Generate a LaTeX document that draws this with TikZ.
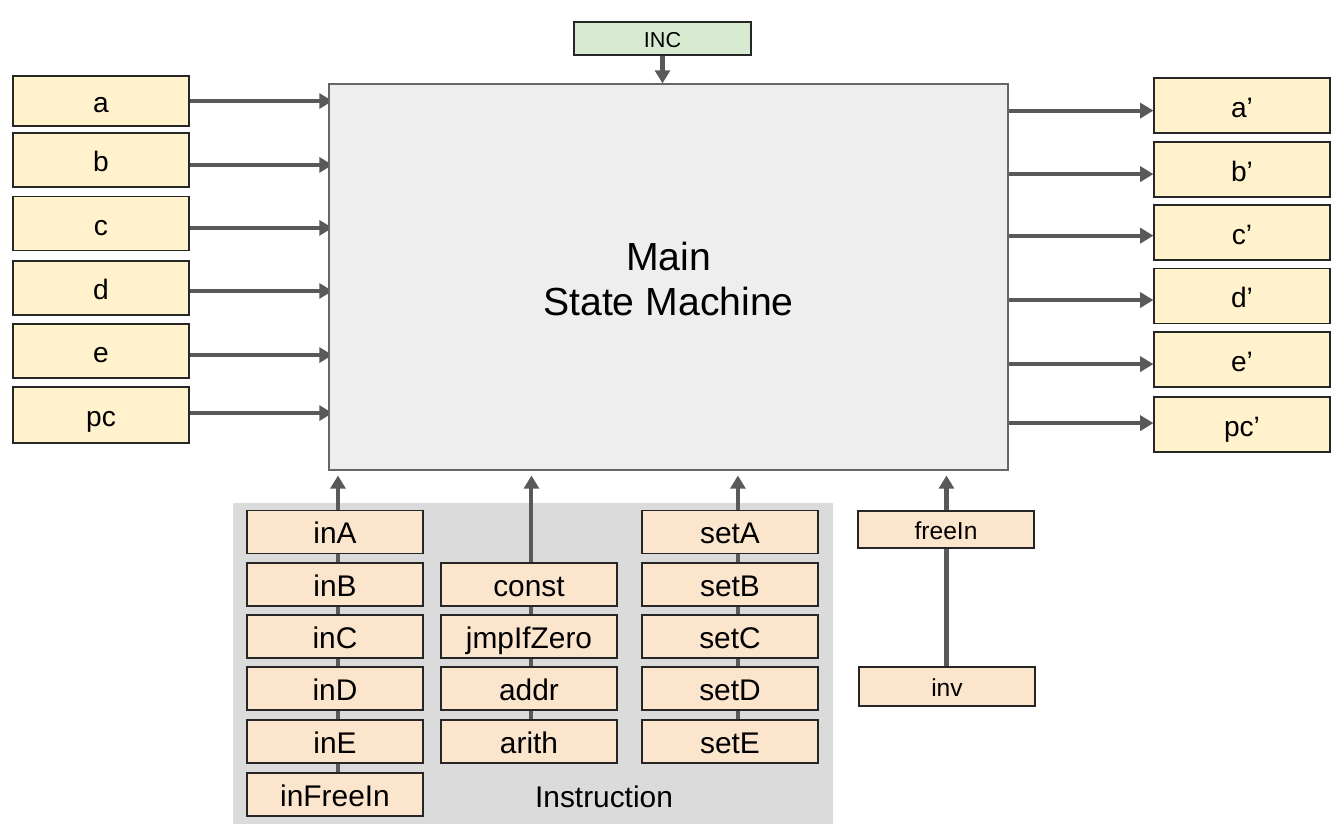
\documentclass[tikz,border=0pt]{standalone}
\usepackage{fontspec}
\setmainfont{Liberation Sans}
\usetikzlibrary{arrows.meta}
\definecolor{ioY}{HTML}{FFF2CC}
\definecolor{insO}{HTML}{FCE5CD}
\definecolor{incG}{HTML}{D9EAD3}
\definecolor{mainG}{HTML}{EEEEEE}
\definecolor{bgG}{HTML}{DBDBDB}
\definecolor{arrG}{HTML}{595959}
\pgfdeclarelayer{bg}\pgfdeclarelayer{lines}\pgfsetlayers{bg,lines,main}
\begin{document}
\begin{tikzpicture}[x=0.02cm,y=-0.02cm,
  box/.style={draw=black!85,line width=0.7pt,inner sep=0pt,minimum width=3.52cm},
  io/.style={box,fill=ioY,minimum height=1.08cm,font=\fontsize{16}{19}\selectfont,text height=14.6pt,text depth=1.4pt},
  ioR/.style={io,minimum height=1.1cm},
  ins/.style={box,fill=insO,minimum height=0.86cm,font=\fontsize{17}{20}\selectfont,text height=15.3pt,text depth=1.7pt},
  fin/.style={box,fill=insO,font=\fontsize{14}{17}\selectfont,text height=12.6pt,text depth=1.4pt},
  arr/.style={draw=arrG,line width=2.3pt,-{Triangle[length=7.5pt,width=8.5pt]}}]
\useasboundingbox (0,0) rectangle (1340,833);

% main
\node[draw=black!60,line width=0.7pt,fill=mainG,minimum width=13.58cm,minimum height=7.72cm,inner sep=0pt] (main) at (668.5,277) {};
\node[font=\fontsize{22.3}{26}\selectfont,align=center] (maintxt) at (668.5,279) {Main\\State Machine};

% INC
\node[box,fill=incG,minimum width=3.54cm,minimum height=0.66cm,font=\fontsize{12.3}{15}\selectfont,text height=11pt,text depth=1.2pt] (inc) at (662.5,38.5) {INC};

% left inputs
\node[io,minimum height=1.0cm] (a) at (101,101) {a};
\node[io] (b) at (101,160) {b};
\node[io] (c) at (101,223.5) {c};
\node[io] (d) at (101,288) {d};
\node[io] (e) at (101,351) {e};
\node[io,minimum height=1.12cm] (pc) at (101,415) {pc};

% right outputs
\node[ioR] (a2) at (1242,105.5) {a’};
\node[ioR] (b2) at (1242,169.5) {b’};
\node[ioR] (c2) at (1242,232.5) {c’};
\node[ioR] (d2) at (1242,296) {d’};
\node[ioR] (e2) at (1242,359.5) {e’};
\node[ioR] (pc2) at (1242,424.5) {pc’};

% instruction group
\begin{pgfonlayer}{bg}
\node[fill=bgG,minimum width=12cm,minimum height=6.42cm,inner sep=0pt] (instr) at (533,663.5) {};
\end{pgfonlayer}
\node[font=\fontsize{17}{20}\selectfont] (instrlbl) at (604,797) {Instruction};

\node[ins] (inA) at (335,532) {inA};
\node[ins] (inB) at (335,584.5) {inB};
\node[ins] (inC) at (335,636.5) {inC};
\node[ins] (inD) at (335,688.5) {inD};
\node[ins] (inE) at (335,741.5) {inE};
\node[ins] (inFreeIn) at (335,794.5) {inFreeIn};

\node[ins] (const) at (529,584.5) {const};
\node[ins] (jmp) at (529,636.5) {jmpIfZero};
\node[ins] (addr) at (529,688.5) {addr};
\node[ins] (arith) at (529,741.5) {arith};

\node[ins] (setA) at (730,532) {setA};
\node[ins] (setB) at (730,584.5) {setB};
\node[ins] (setC) at (730,636.5) {setC};
\node[ins] (setD) at (730,688.5) {setD};
\node[ins] (setE) at (730,741.5) {setE};

\node[fin,minimum height=0.74cm] (freeIn) at (946,529.5) {freeIn};
\node[fin,minimum height=0.78cm] (inv) at (947,686.5) {inv};

% connectors
\begin{pgfonlayer}{lines}
\draw[arr] (inc.south) -- (inc.south |- main.north);

\draw[arr,shorten >=-2.3pt] (a.east) -- (a.east -| main.west);
\draw[arr,shorten >=-2.3pt] ([yshift=-2.8pt]b.east) -- ([yshift=-2.8pt]b.east -| main.west);
\draw[arr,shorten >=-2.3pt] ([yshift=-2.5pt]c.east) -- ([yshift=-2.5pt]c.east -| main.west);
\draw[arr,shorten >=-2.3pt] ([yshift=-1.7pt]d.east) -- ([yshift=-1.7pt]d.east -| main.west);
\draw[arr,shorten >=-2.3pt] ([yshift=-2.3pt]e.east) -- ([yshift=-2.3pt]e.east -| main.west);
\draw[arr,shorten >=-2.3pt] ([yshift=1.1pt]pc.east) -- ([yshift=1.1pt]pc.east -| main.west);

\draw[arr] ([yshift=-2.9pt]a2.west -| main.east) -- ([yshift=-2.9pt]a2.west);
\draw[arr] ([yshift=-2.6pt]b2.west -| main.east) -- ([yshift=-2.6pt]b2.west);
\draw[arr] ([yshift=-1.8pt]c2.west -| main.east) -- ([yshift=-1.8pt]c2.west);
\draw[arr] ([yshift=-2.3pt]d2.west -| main.east) -- ([yshift=-2.3pt]d2.west);
\draw[arr] ([yshift=-2.6pt]e2.west -| main.east) -- ([yshift=-2.6pt]e2.west);
\draw[arr] ([yshift=0.8pt]pc2.west -| main.east) -- ([yshift=0.8pt]pc2.west);

\draw[arr,shorten >=2.8pt] ([xshift=1.7pt]inFreeIn.center) -- ([xshift=1.7pt]inFreeIn.center |- main.south);
\draw[arr,shorten >=2.8pt] ([xshift=1.4pt]arith.center) -- ([xshift=1.4pt]arith.center |- main.south);
\draw[arr,shorten >=2.8pt] ([xshift=4.5pt]setE.center) -- ([xshift=4.5pt]setE.center |- main.south);
\draw[arr,shorten >=2.8pt] ([xshift=-0.3pt]inv.center) -- ([xshift=-0.3pt]inv.center |- main.south);
\end{pgfonlayer}
\end{tikzpicture}
\end{document}
